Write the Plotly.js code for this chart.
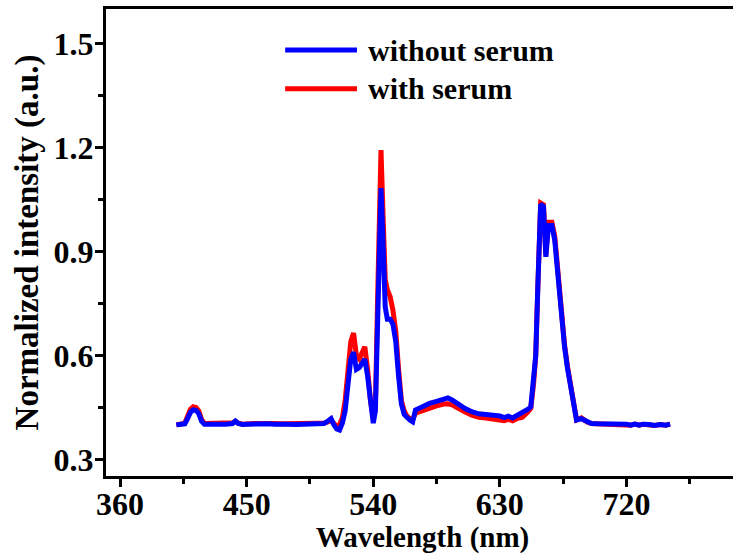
<!DOCTYPE html>
<html>
<head>
<meta charset="utf-8">
<script src="https://cdn.plot.ly/plotly-3.0.1.min.js"></script>
<style>
html,body{margin:0;padding:0;overflow:hidden;background:#fff;}
#chart{width:740px;height:554px;}
</style>
</head>
<body>
<div id="chart"></div>
<script>
// Wavelength (nm)
var wavelength = [400,403,406,408,410,412,414,416,418,420,425,430,435,440,442,444,447,450,455,460,465,470,475,480,485,490,495,500,505,508,510,512,514,516,518,520,522,524,526,528,530,532,534,536,538,540,541.5,543,544.5,545.5,547,548.5,550,552,554,556,558,560,562,564,566,568,570,575,580,585,590,593,596,600,605,610,615,620,625,630,633,636,639,642,646,650,652,654,655.5,657,658,659,661,662.7,664.5,667,669,672.5,676,678,681,683,684.5,688,692,695,700,705,710,715,720,723,726,729,732,736,740,744,748,751];
// Normalized intensity, with serum (red)
var withSerum = [0.400,0.402,0.405,0.425,0.445,0.452,0.450,0.440,0.415,0.404,0.404,0.403,0.404,0.406,0.410,0.405,0.402,0.404,0.404,0.404,0.405,0.404,0.403,0.404,0.403,0.404,0.404,0.405,0.405,0.410,0.412,0.405,0.395,0.400,0.420,0.470,0.560,0.640,0.665,0.600,0.590,0.610,0.625,0.560,0.470,0.420,0.450,0.750,1.120,1.193,1.000,0.820,0.790,0.770,0.730,0.670,0.560,0.470,0.440,0.425,0.418,0.415,0.434,0.442,0.450,0.455,0.460,0.461,0.458,0.448,0.438,0.428,0.422,0.420,0.418,0.416,0.412,0.416,0.412,0.418,0.422,0.438,0.448,0.520,0.600,0.800,1.000,1.040,1.035,0.890,0.985,0.985,0.945,0.780,0.630,0.570,0.495,0.465,0.414,0.420,0.408,0.404,0.403,0.403,0.403,0.402,0.402,0.399,0.402,0.399,0.402,0.401,0.398,0.401,0.399,0.402];
// Normalized intensity, without serum (blue)
var withoutSerum = [0.400,0.401,0.403,0.418,0.436,0.443,0.442,0.432,0.410,0.402,0.401,0.401,0.402,0.404,0.411,0.404,0.401,0.402,0.403,0.402,0.403,0.402,0.403,0.402,0.401,0.402,0.402,0.403,0.404,0.412,0.418,0.400,0.388,0.385,0.405,0.440,0.520,0.590,0.610,0.560,0.565,0.580,0.590,0.540,0.460,0.405,0.440,0.700,1.000,1.083,0.920,0.740,0.705,0.705,0.690,0.640,0.540,0.460,0.430,0.420,0.414,0.409,0.443,0.452,0.462,0.468,0.476,0.478,0.472,0.460,0.448,0.438,0.432,0.430,0.428,0.426,0.421,0.425,0.420,0.427,0.433,0.445,0.452,0.530,0.600,0.800,1.000,1.037,1.030,0.885,0.975,0.975,0.933,0.770,0.625,0.565,0.490,0.462,0.414,0.418,0.408,0.404,0.403,0.403,0.403,0.403,0.402,0.399,0.402,0.399,0.402,0.401,0.398,0.401,0.399,0.402];
var seriesNames = ["without serum", "with serum"];
var seriesColors = ["#0000ff", "#ff0000"];

var FONT = "Liberation Serif, Times New Roman, serif";

var traces = [
  {x: wavelength, y: withSerum, type: "scatter", mode: "lines", name: seriesNames[1],
   line: {color: seriesColors[1], width: 5}, showlegend: false},
  {x: wavelength, y: withoutSerum, type: "scatter", mode: "lines", name: seriesNames[0],
   line: {color: seriesColors[0], width: 5}, showlegend: false}
];

// manual legend (long sample lines like the reference)
var legY = [0.912, 0.829];
var shapes = [], annotations = [];
for (var i = 0; i < 2; i++) {
  shapes.push({type: "line", xref: "paper", yref: "paper", x0: 0.283, x1: 0.3965, y0: legY[i], y1: legY[i],
    line: {color: seriesColors[i], width: 5}});
  annotations.push({xref: "paper", yref: "paper", x: 0.410, y: legY[i], xanchor: "left", yanchor: "middle",
    text: seriesNames[i], showarrow: false,
    font: {family: FONT, size: 30, weight: "bold", color: "#000"}});
}

var layout = {
  width: 740, height: 554,
  margin: {l: 106, r: 1, t: 9, b: 78},
  paper_bgcolor: "#fff", plot_bgcolor: "#fff",
  font: {family: FONT, color: "#000"},
  showlegend: false,
  shapes: shapes,
  annotations: annotations,
  xaxis: {
    range: [350, 800], tick0: 360, dtick: 90,
    showgrid: false, zeroline: false,
    showline: true, linecolor: "#000", linewidth: 3, mirror: true,
    ticks: "outside", ticklen: 8, tickwidth: 3, tickcolor: "#000",
    ticklabelstandoff: -10,
    minor: {dtick: 45, tick0: 360, ticks: "outside", ticklen: 5, tickwidth: 3, tickcolor: "#000", showgrid: false},
    tickfont: {family: FONT, size: 32, weight: "bold", color: "#000"},
    title: {text: "Wavelength (nm)", standoff: 3, font: {family: FONT, size: 29, weight: "bold", color: "#000"}}
  },
  yaxis: {
    range: [0.2525, 1.6], tick0: 0.3, dtick: 0.3, tickformat: ".1f",
    showgrid: false, zeroline: false,
    showline: true, linecolor: "#000", linewidth: 3, mirror: false,
    ticks: "outside", ticklen: 8, tickwidth: 3, tickcolor: "#000",
    ticklabelstandoff: -5,
    minor: {dtick: 0.15, tick0: 0.3, ticks: "outside", ticklen: 5, tickwidth: 3, tickcolor: "#000", showgrid: false},
    tickfont: {family: FONT, size: 32, weight: "bold", color: "#000"},
    title: {text: "Normalized intensity (a.u.)", standoff: 6, font: {family: FONT, size: 33, weight: "bold", color: "#000"}}
  }
};

Plotly.newPlot("chart", traces, layout, {displayModeBar: false, staticPlot: true});
</script>
</body>
</html>
